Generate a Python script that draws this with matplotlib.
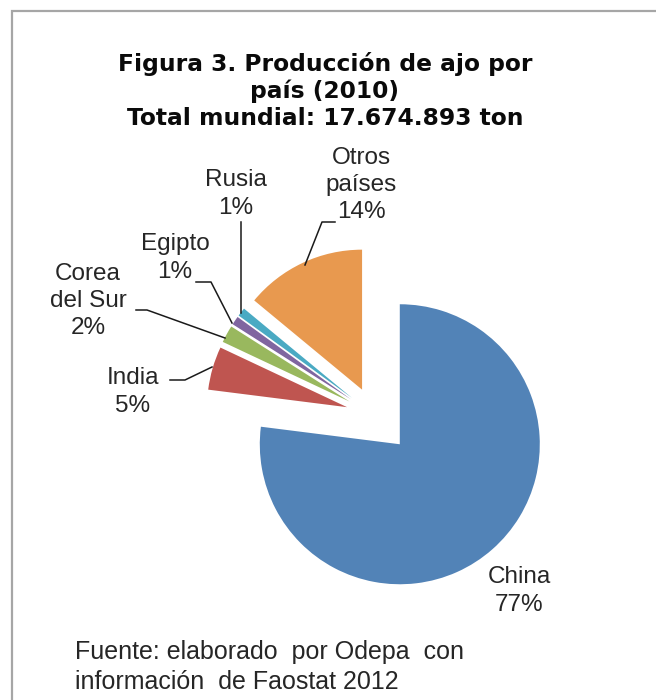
import matplotlib.pyplot as plt

# datos
paises = ['China', 'India', 'Corea\ndel Sur', 'Egipto', 'Rusia', 'Otros\npaíses']
porcentajes = [77, 5, 2, 1, 1, 14]
colores = ['#5283B7', '#BF5550', '#99B85E', '#8066A0', '#4AAAC3', '#E8994F']
titulo = 'Figura 3. Producción de ajo por\npaís (2010)\nTotal mundial: 17.674.893 ton'
fuente = 'Fuente: elaborado  por Odepa  con\ninformación  de Faostat 2012'

W, H = 656, 700
fig = plt.figure(figsize=(W / 100, H / 100), dpi=100)
ax = fig.add_axes([0, 0, 1, 1])

radio = 140
centro = (374, H - 415)
wedges, _ = ax.pie(porcentajes, colors=colores, startangle=90, counterclock=False,
                   radius=radio, center=centro, explode=[39, 28, 28, 28, 28, 28],
                   wedgeprops=dict(linewidth=0))
ax.set_xlim(0, W)
ax.set_ylim(0, H)
ax.axis('off')

# etiquetas (posicion del texto en pixeles de la imagen) y lineas guia
pos_etiquetas = [(519, 591), (133, 392), (88, 301), (175, 258), (236, 194), (361, 185)]
guias = {
    1: [(170, 380), (185, 380), (212, 367)],
    2: [(136, 310), (147, 310), (225, 338)],
    3: [(196, 282), (211, 282), (232, 323)],
    4: [(241, 222), (241, 313)],
    5: [(335, 222), (322, 222), (305, 265)],
}
fs = 17.5
for i, (nombre, p) in enumerate(zip(paises, porcentajes)):
    x, y = pos_etiquetas[i]
    ax.text(x, H - y, f'{nombre}\n{p}%', ha='center', va='center', fontsize=fs,
            family='Liberation Sans', color='#262626', linespacing=1.32)
    if i in guias:
        xs = [pt[0] for pt in guias[i]]
        ys = [H - pt[1] for pt in guias[i]]
        ax.plot(xs, ys, color='#1a1a1a', lw=1.1)

# marco
ax.plot([11.5, 11.5, W], [0, H - 10.5, H - 10.5], color='#A6A6A6', lw=1.6,
        solid_joinstyle='miter')

fig.text(325 / W, 1 - 91 / H, titulo, ha='center', va='center', fontsize=16.8,
         fontweight='bold', family='DejaVu Sans', color='#0a0a0a', linespacing=1.22)
fig.text(75 / W, 1 - 667 / H, fuente, ha='left', va='center', fontsize=18,
         family='Liberation Sans', color='#262626', linespacing=1.32)

fig.savefig('out.png', dpi=100, facecolor='white')
